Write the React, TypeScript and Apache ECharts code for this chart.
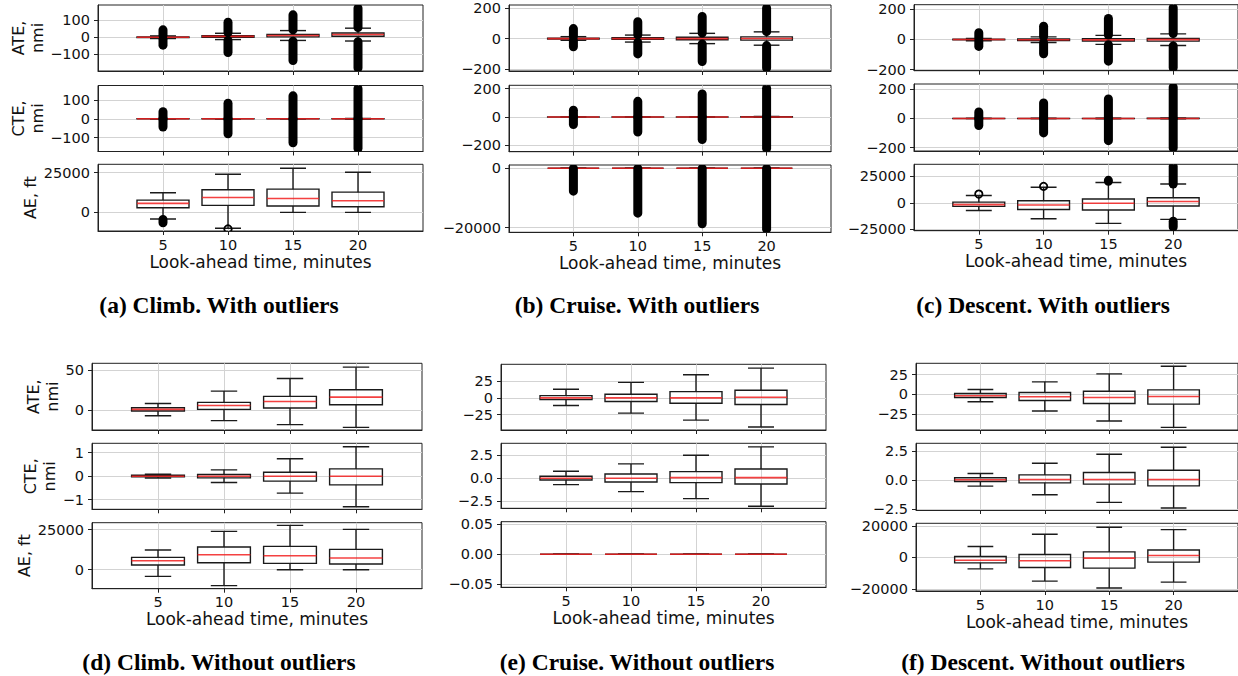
import React, { useEffect, useRef } from 'react';
import * as echarts from 'echarts';

const LOOK_AHEAD = [5, 10, 15, 20];
const X_AXIS_TITLE = 'Look-ahead time, minutes';

// box statistics: [lower whisker, Q1, median, Q3, upper whisker]
const climbATE = [[-7.1, -1.25, 0.8, 2.9, 8.3], [-13.3, 0.8, 5.8, 9.6, 23.75], [-18.3, 2.5, 10.8, 17.1, 39.6], [-21.7, 6.7, 16.25, 25.4, 53.75]];
const climbCTE = [[-0.08, -0.03, 0, 0.04, 0.08], [-0.27, -0.07, 0, 0.07, 0.27], [-0.72, -0.21, 0, 0.17, 0.74], [-1.3, -0.37, 0, 0.31, 1.25]];
const climbAE = [[-4170, 2920, 5625, 7710, 12290], [-10000, 4375, 9375, 14170, 23960], [0, 3960, 8750, 14580, 27700], [0, 3540, 7290, 12700, 25200]];

const cruiseATE = [[-11.4, -2.5, 0, 3.5, 12.9], [-22.8, -5.4, 0, 5.4, 23.3], [-33.2, -7.9, 0, 9.4, 34.7], [-43.6, -9.9, 1, 11.4, 44.6]];
const cruiseCTE = [[-0.69, -0.18, 0, 0.22, 0.76], [-1.45, -0.4, 0, 0.47, 1.56], [-2.21, -0.47, 0.07, 0.72, 2.5], [-3.04, -0.62, 0.07, 1.01, 3.41]];
const cruiseAE = [[0, 0, 0, 0, 0], [0, 0, 0, 0, 0], [0, 0, 0, 0, 0], [0, 0, 0, 0, 0]];

const descentATE = [[-9.2, -3.75, -1.7, 1.25, 6.25], [-20.8, -7.5, -2.9, 2.5, 15.8], [-33.3, -11.3, -3.75, 4.1, 25.8], [-41.3, -12.1, -2.5, 5.8, 35.4]];
const descentCTE = [[-0.51, -0.12, 0.03, 0.2, 0.57], [-1.25, -0.23, 0.05, 0.45, 1.45], [-1.91, -0.34, 0.05, 0.65, 2.22], [-2.39, -0.49, 0.05, 0.85, 2.82]];
const descentAE = [[-7200, -3410, -1700, 630, 6950], [-14980, -6320, -2100, 1900, 14720], [-19400, -6760, -420, 3540, 19150], [-15600, -2950, 1260, 4800, 17690]];

// outlier runs: [look-ahead, from, to]  (from === to : a single outlier)
const climbATEFliers = [[5, -46, -12], [5, 12, 44], [10, -89, -18], [10, 28, 89], [15, -136, -23], [15, 44, 132], [20, -180, -26], [20, 58, 172]];
const climbCTEFliers = [[5, -44, -0.1], [5, 0.1, 38], [10, -80, -0.3], [10, 0.3, 83], [15, -128, -0.8], [15, 0.8, 122], [20, -158, -1.4], [20, 1.4, 161]];
const climbAEFliers = [[5, -6500, -4500], [10, -10400, -10400]];

const cruiseATEFliers = [[5, -54, -13], [5, 14, 66], [10, -101, -25], [10, 25, 112], [15, -151, -36], [15, 37, 146], [20, -194, -46], [20, 46, 202]];
const cruiseCTEFliers = [[5, -53, -0.8], [5, 0.8, 48], [10, -106, -1.6], [10, 1.6, 110], [15, -159, -2.4], [15, 2.6, 162], [20, -223, -3.2], [20, 3.5, 202]];
const cruiseAEFliers = [[5, -7700, -50], [10, -15100, -50], [15, -18700, -50], [20, -20500, -50]];

const descentATEFliers = [[5, -47, -12], [5, 9, 43], [10, -95, -23], [10, 18, 86], [15, -144, -36], [15, 28, 137], [20, -187, -44], [20, 38, 208]];
const descentCTEFliers = [[5, -49, -0.6], [5, 0.6, 44], [10, -99, -1.3], [10, 1.5, 106], [15, -152, -2], [15, 2.3, 133], [20, -202, -2.5], [20, 2.9, 215]];
const descentAEFliers = [[5, 8200, 8200], [10, 15500, 15500], [15, 20300, 21200], [20, 17700, 34150], [20, -22850, -17300]];

// y tick values
const ticks100 = [-100, 0, 100];
const ticks200 = [-200, 0, 200];
const ticksAEclimb = [0, 25000];
const ticksAEcruise = [-20000, 0];
const ticksAEdescent = [-25000, 0, 25000];
const ticksATEclimbNo = [0, 50];
const ticksCTEclimbNo = [-1, 0, 1];
const ticks25 = [-25, 0, 25];
const ticks2p5 = [-2.5, 0, 2.5];
const ticks005 = [-0.05, 0, 0.05];
const ticks20000 = [-20000, 0, 20000];

const CAPTIONS = [
  '(a) Climb. With outliers', '(b) Cruise. With outliers', '(c) Descent. With outliers',
  '(d) Climb. Without outliers', '(e) Cruise. Without outliers', '(f) Descent. Without outliers',
];

const FONT = '"DejaVu Sans", sans-serif';
const GRID_COLOR = '#d3d3d3';
const BOX_WIDTH = 4;

type Sub = {
  top: number; bottom: number; box: number[][]; fliers: number[][] | null;
  yMin: number; yMax: number; ticks: number[]; dec: number; name?: string; nameGap?: number;
};
type Panel = { left: number; right: number; caption: string; cx: number; cy: number; subs: Sub[] };

const PANELS: Panel[] = [
  {
    left: 98, right: 423, caption: CAPTIONS[0], cx: 219, cy: 305, subs: [
      { top: 5, bottom: 71, box: climbATE, fliers: climbATEFliers, yMin: -198, yMax: 190, ticks: ticks100, dec: 0, name: 'ATE,\nnmi', nameGap: 51 },
      { top: 85.5, bottom: 151.5, box: climbCTE, fliers: climbCTEFliers, yMin: -174, yMax: 177, ticks: ticks100, dec: 0, name: 'CTE,\nnmi', nameGap: 51 },
      { top: 164.3, bottom: 231, box: climbAE, fliers: climbAEFliers, yMin: -11700, yMax: 30200, ticks: ticksAEclimb, dec: 0, name: 'AE, ft', nameGap: 58 },
    ],
  },
  {
    left: 509, right: 831, caption: CAPTIONS[1], cx: 637, cy: 305, subs: [
      { top: 5, bottom: 71, box: cruiseATE, fliers: cruiseATEFliers, yMin: -214, yMax: 222, ticks: ticks200, dec: 0 },
      { top: 85.3, bottom: 151.7, box: cruiseCTE, fliers: cruiseCTEFliers, yMin: -245, yMax: 223, ticks: ticks200, dec: 0 },
      { top: 165, bottom: 232.3, box: cruiseAE, fliers: cruiseAEFliers, yMin: -21550, yMax: 1110, ticks: ticksAEcruise, dec: 0 },
    ],
  },
  {
    left: 914, right: 1238, caption: CAPTIONS[2], cx: 1043, cy: 305, subs: [
      { top: 4.7, bottom: 70.7, box: descentATE, fliers: descentATEFliers, yMin: -207, yMax: 228, ticks: ticks200, dec: 0 },
      { top: 84, bottom: 151, box: descentCTE, fliers: descentCTEFliers, yMin: -223, yMax: 236, ticks: ticks200, dec: 0 },
      { top: 164.3, bottom: 230.7, box: descentAE, fliers: descentAEFliers, yMin: -26300, yMax: 36300, ticks: ticksAEdescent, dec: 0 },
    ],
  },
  {
    left: 92, right: 422, caption: CAPTIONS[3], cx: 219, cy: 662, subs: [
      { top: 363.3, bottom: 430, box: climbATE, fliers: null, yMin: -25, yMax: 58.6, ticks: ticksATEclimbNo, dec: 0, name: 'ATE,\nnmi', nameGap: 28 },
      { top: 443.3, bottom: 509.3, box: climbCTE, fliers: null, yMin: -1.41, yMax: 1.4, ticks: ticksCTEclimbNo, dec: 0, name: 'CTE,\nnmi', nameGap: 32 },
      { top: 522.7, bottom: 588.7, box: climbAE, fliers: null, yMin: -11900, yMax: 29400, ticks: ticksAEclimb, dec: 0, name: 'AE, ft', nameGap: 58 },
    ],
  },
  {
    left: 501, right: 826, caption: CAPTIONS[4], cx: 637, cy: 662, subs: [
      { top: 364.3, bottom: 430, box: cruiseATE, fliers: null, yMin: -48, yMax: 50.3, ticks: ticks25, dec: 0 },
      { top: 443.3, bottom: 508.3, box: cruiseCTE, fliers: null, yMin: -3.26, yMax: 3.8, ticks: ticks2p5, dec: 1 },
      { top: 521.7, bottom: 587.3, box: cruiseAE, fliers: null, yMin: -0.055, yMax: 0.054, ticks: ticks005, dec: 2 },
    ],
  },
  {
    left: 916, right: 1238, caption: CAPTIONS[5], cx: 1043, cy: 662, subs: [
      { top: 363.3, bottom: 430, box: descentATE, fliers: null, yMin: -44.6, yMax: 39.1, ticks: ticks25, dec: 0 },
      { top: 443.3, bottom: 510, box: descentCTE, fliers: null, yMin: -2.56, yMax: 3.16, ticks: ticks2p5, dec: 1 },
      { top: 523.3, bottom: 591, box: descentAE, fliers: null, yMin: -21260, yMax: 21700, ticks: ticks20000, dec: 0 },
    ],
  },
];

function fmt(v: number, dec: number): string {
  const s = Math.abs(v).toFixed(dec);
  return v < 0 ? '\u2212' + s : s;
}

function boxRender(params: any, api: any) {
  const x = api.value(0);
  const lo = api.coord([x, api.value(1)]);
  const q1 = api.coord([x, api.value(2)]);
  const med = api.coord([x, api.value(3)]);
  const q3 = api.coord([x, api.value(4)]);
  const hi = api.coord([x, api.value(5)]);
  const cx = lo[0];
  const halfW = api.size([BOX_WIDTH, 0])[0] / 2;
  const capW = halfW / 2;
  const ls = { stroke: '#1a1a1a', lineWidth: 1.4, fill: 'none' };
  return {
    type: 'group',
    children: [
      { type: 'polygon', shape: { points: [[cx - halfW, q1[1]], [cx + halfW, q1[1]], [cx + halfW, q3[1]], [cx - halfW, q3[1]]] }, style: ls },
      { type: 'line', shape: { x1: cx, y1: q1[1], x2: cx, y2: lo[1] }, style: ls },
      { type: 'line', shape: { x1: cx, y1: q3[1], x2: cx, y2: hi[1] }, style: ls },
      { type: 'line', shape: { x1: cx - capW, y1: lo[1], x2: cx + capW, y2: lo[1] }, style: ls },
      { type: 'line', shape: { x1: cx - capW, y1: hi[1], x2: cx + capW, y2: hi[1] }, style: ls },
      { type: 'line', shape: { x1: cx - halfW, y1: med[1], x2: cx + halfW, y2: med[1] }, style: { stroke: '#f22020', lineWidth: 1.6, opacity: 0.85 } },
    ],
  };
}

function flierRender(params: any, api: any) {
  const x = api.value(0);
  const a = api.value(1);
  const b = api.value(2);
  const top = api.coord([x, Math.max(a, b)]);
  const bot = api.coord([x, Math.min(a, b)]);
  if (a === b) {
    return { type: 'circle', shape: { cx: top[0], cy: top[1], r: 3.7 }, style: { fill: 'none', stroke: '#000', lineWidth: 1.8 } };
  }
  const r = 4.5;
  return {
    type: 'rect',
    shape: { x: top[0] - r, y: top[1] - r, width: 2 * r, height: bot[1] - top[1] + 2 * r, r },
    style: { fill: '#000' },
  };
}

function buildOption() {
  const grids: any[] = [];
  const xAxes: any[] = [];
  const yAxes: any[] = [];
  const series: any[] = [];
  let gi = 0;
  PANELS.forEach((p) => {
    p.subs.forEach((s, si) => {
      const isBottom = si === p.subs.length - 1;
      grids.push({
        left: p.left, top: s.top, width: p.right - p.left, height: s.bottom - s.top,
        show: true, borderColor: '#222', borderWidth: 1, backgroundColor: 'transparent',
      });
      xAxes.push({
        gridIndex: gi, type: 'value', min: 0, max: 25,
        axisLine: { show: true, onZero: false, lineStyle: { color: '#222', width: 1 } },
        axisTick: { show: true, customValues: LOOK_AHEAD, length: 4, lineStyle: { color: '#222', width: 1 } },
        axisLabel: {
          show: isBottom, customValues: LOOK_AHEAD, formatter: (v: number) => String(v),
          fontSize: 14.5, fontFamily: FONT, color: '#111', margin: 6,
        },
        splitLine: { show: true, lineStyle: { color: GRID_COLOR, width: 1 } },
        name: isBottom ? X_AXIS_TITLE : '',
        nameLocation: 'middle', nameGap: 22,
        nameTextStyle: { fontSize: 17, fontFamily: FONT, color: '#111' },
      });
      yAxes.push({
        gridIndex: gi, type: 'value', min: s.yMin, max: s.yMax,
        axisLine: { show: true, onZero: false, lineStyle: { color: '#222', width: 1 } },
        axisTick: { show: true, customValues: s.ticks, length: 4, lineStyle: { color: '#222', width: 1 } },
        axisLabel: {
          customValues: s.ticks, formatter: (v: number) => fmt(v, s.dec),
          fontSize: 14.5, fontFamily: FONT, color: '#111', margin: 8,
        },
        splitLine: { show: true, lineStyle: { color: GRID_COLOR, width: 1 } },
        name: s.name || '', nameLocation: 'middle', nameGap: s.nameGap || 0, nameRotate: 90,
        nameTextStyle: { fontSize: 16, lineHeight: 18.5, fontFamily: FONT, color: '#111' },
      });
      series.push({
        type: 'custom', xAxisIndex: gi, yAxisIndex: gi, renderItem: boxRender, clip: true, z: 2,
        encode: { x: 0, y: [1, 2, 3, 4, 5] },
        data: s.box.map((b, i) => [LOOK_AHEAD[i], ...b]),
      });
      if (s.fliers) {
        series.push({
          type: 'custom', xAxisIndex: gi, yAxisIndex: gi, renderItem: flierRender, clip: true, z: 3,
          encode: { x: 0, y: [1, 2] },
          data: s.fliers,
        });
      }
      gi++;
    });
  });
  const graphic = PANELS.map((p) => ({
    type: 'text', x: p.cx, y: p.cy,
    style: {
      text: p.caption, fontSize: 23.5, fontWeight: 'bold', fontFamily: '"Liberation Serif", "Times New Roman", serif',
      fill: '#000', align: 'center', verticalAlign: 'middle',
    },
  }));
  return { animation: false, grid: grids, xAxis: xAxes, yAxis: yAxes, series, graphic };
}

export default function App() {
  const ref = useRef<HTMLDivElement>(null);
  useEffect(() => {
    if (!ref.current) return;
    const chart = echarts.init(ref.current, undefined, { renderer: 'svg' });
    chart.setOption(buildOption() as any);
    return () => chart.dispose();
  }, []);
  return <div ref={ref} style={{ position: 'absolute', left: 0, top: 0, width: 1238, height: 676, background: '#fff' }} />;
}
